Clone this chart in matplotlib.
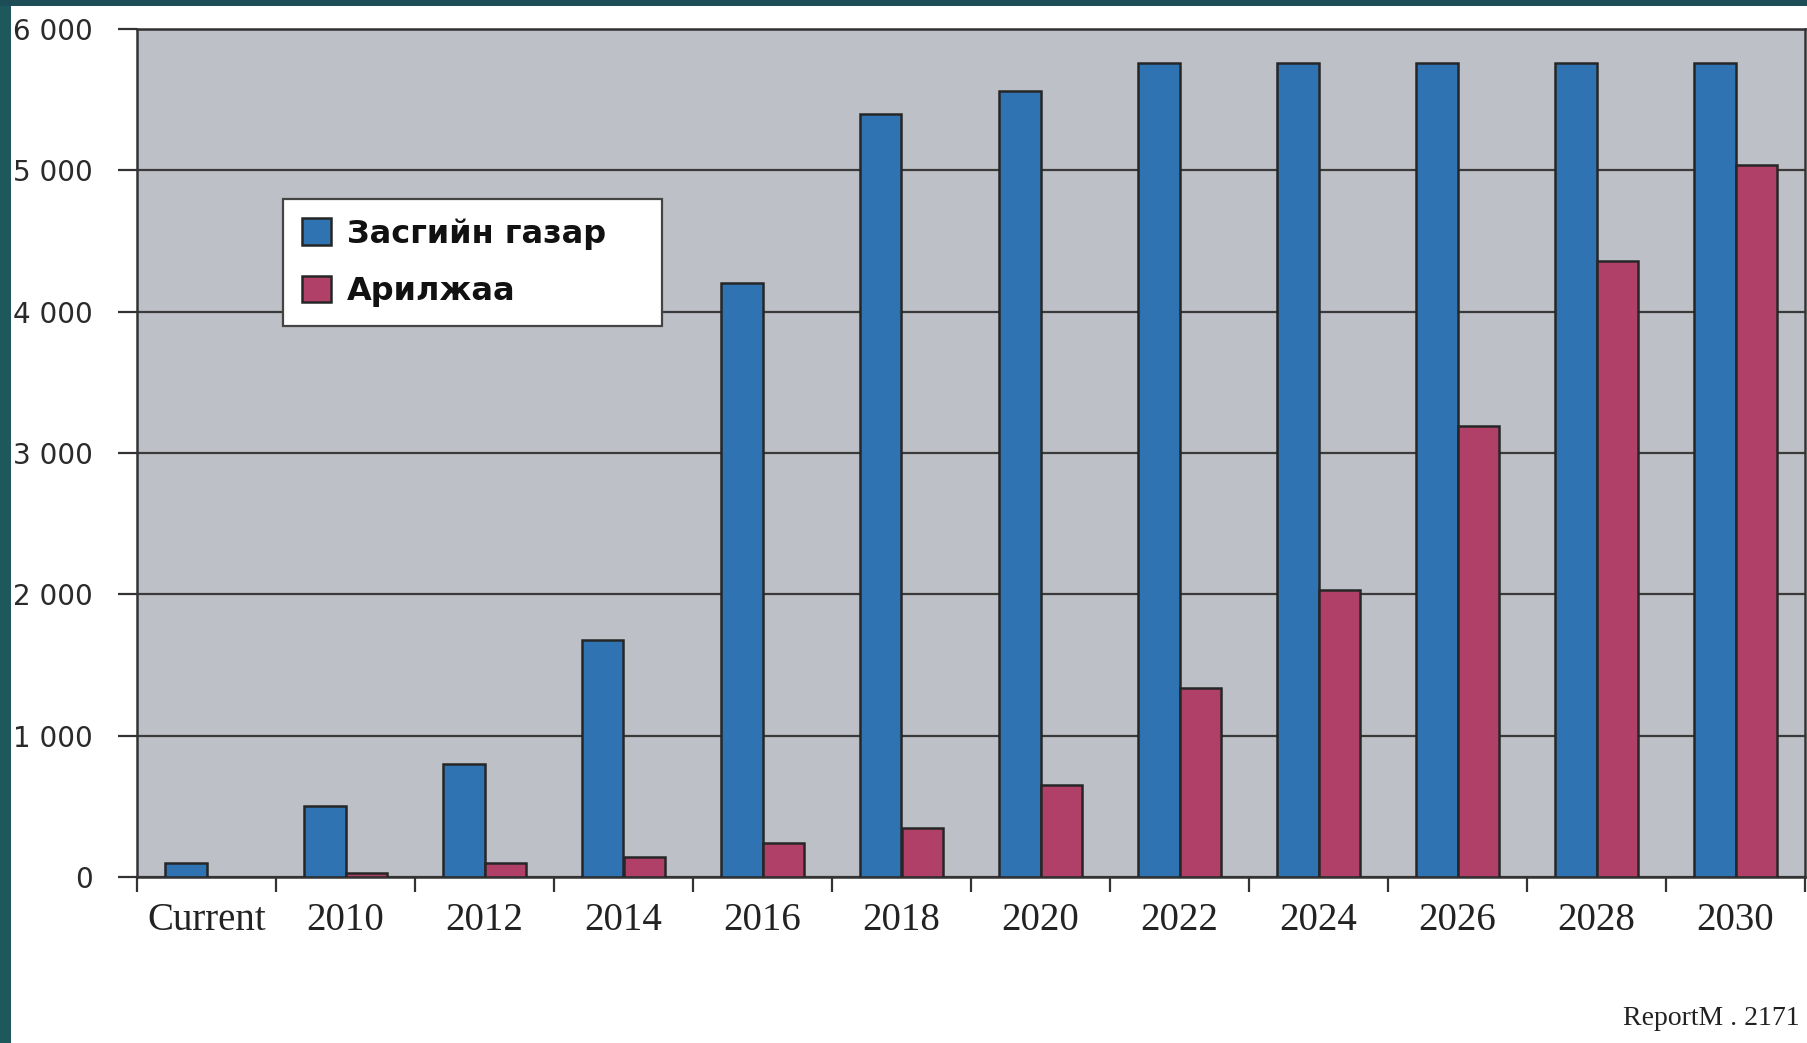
import numpy as np
import matplotlib
matplotlib.use("Agg")
import matplotlib.pyplot as plt
from matplotlib.patches import Rectangle
from matplotlib.ticker import FuncFormatter

# Өгөгдөл
categories = ["Current", "2010", "2012", "2014", "2016", "2018",
              "2020", "2022", "2024", "2026", "2028", "2030"]
government = [100, 500, 800, 1680, 4200, 5400, 5560, 5760, 5760, 5760, 5760, 5760]
commercial = [0, 30, 100, 140, 240, 350, 650, 1340, 2030, 3190, 4360, 5040]
y_ticks = [0, 1000, 2000, 3000, 4000, 5000, 6000]

blue = "#3073b3"
red = "#b04067"
edge = "#262626"

fig = plt.figure(figsize=(18.07, 10.43), dpi=100)
fig.patch.set_facecolor("white")

# Зүүн болон дээд талын хүрээ
fig.patches.append(Rectangle((0, 0), 11 / 1807, 1, transform=fig.transFigure,
                             facecolor="#1e575c", edgecolor="none", zorder=0))
fig.patches.append(Rectangle((0, 1 - 6 / 1043), 1, 6 / 1043, transform=fig.transFigure,
                             facecolor="#1d4d57", edgecolor="none", zorder=0))

ax = fig.add_axes([137 / 1807, 1 - 877 / 1043, (1805 - 137) / 1807, (877 - 29) / 1043])
ax.set_facecolor("#bec0c7")

x = np.arange(len(categories))
w = 0.3
ax.bar(x - w / 2, government, w, color=blue, edgecolor=edge, linewidth=1.8,
       label="Засгийн газар", zorder=3)
# 0 утгатай баганын хүрээг зурахгүй
ax.bar(x + w / 2, commercial, w, color=red, edgecolor=edge,
       linewidth=[1.8 if v > 0 else 0 for v in commercial],
       label="Арилжаа", zorder=3)

ax.set_xlim(-0.5, len(categories) - 0.5)
ax.set_ylim(0, 6000)

# Ангиллын хил дээрх тэмдэг, төвд нь шошго
ax.set_xticks(np.arange(len(categories) + 1) - 0.5)
ax.set_xticklabels([])
ax.set_xticks(x, minor=True)
ax.set_xticklabels(categories, minor=True, family="Liberation Serif", fontsize=28)
ax.tick_params(axis="x", which="major", length=11, width=1.6, color="#333333", direction="out")
ax.tick_params(axis="x", which="minor", length=0, pad=18, colors="#222222")

ax.set_yticks(y_ticks)
ax.yaxis.set_major_formatter(FuncFormatter(lambda v, p: f"{int(v):,}".replace(",", " ")))
ax.tick_params(axis="y", length=14, width=1.6, color="#333333", pad=18,
               labelsize=20, labelcolor="#2a2a2a", labelfontfamily="DejaVu Sans")

ax.yaxis.grid(True, color="#3a3a3a", linewidth=1.6, zorder=1)
ax.set_axisbelow(True)
for s in ax.spines.values():
    s.set_color("#333333")
    s.set_linewidth(1.8)

leg = ax.legend(loc="upper left",
                bbox_to_anchor=(283 / 1807, 1 - 323 / 1043, 379 / 1807, 124 / 1043),
                bbox_transform=fig.transFigure, mode="expand", borderaxespad=0,
                fancybox=False, frameon=True, framealpha=1, edgecolor="#444444",
                prop={"family": "DejaVu Sans", "weight": "bold", "size": 23},
                handlelength=0.9, handleheight=0.9, handletextpad=0.5,
                labelspacing=0.82, borderpad=0.6)
leg.get_frame().set_linewidth(1.6)
leg.set_zorder(5)
for h in leg.legend_handles:
    h.set_edgecolor(edge)
    h.set_linewidth(1.8)
for t in leg.get_texts():
    t.set_color("#111111")

fig.text(1800 / 1807, 1 - 1025 / 1043, "ReportM . 2171", ha="right", va="baseline",
         family="Liberation Serif", fontsize=20, color="#222222")

fig.savefig("out.png", dpi=100)
